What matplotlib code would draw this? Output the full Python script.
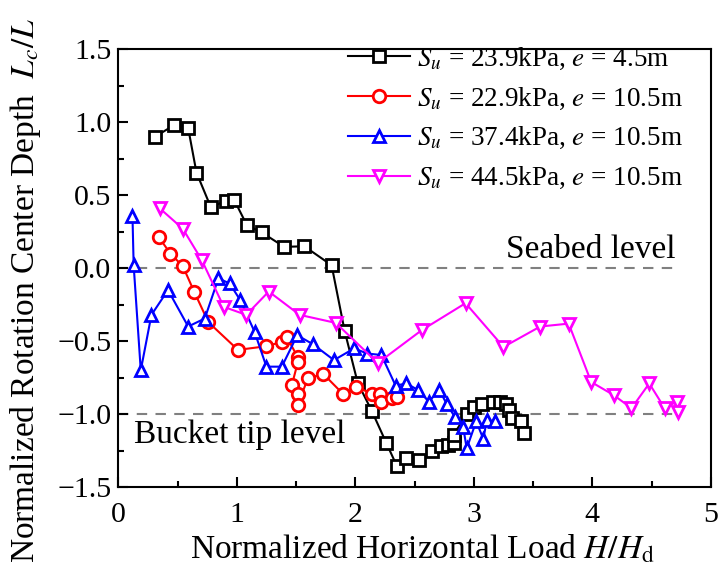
import matplotlib
matplotlib.use("Agg")
import matplotlib.pyplot as plt
from matplotlib.ticker import MultipleLocator

plt.rcParams["font.family"] = ["Liberation Serif", "DejaVu Serif"]
plt.rcParams["mathtext.fontset"] = "stix"

# black squares: Su = 23.9 kPa, e = 4.5 m
h_black = [0.31, 0.47, 0.59, 0.66, 0.78, 0.91, 0.98, 1.085, 1.21, 1.40, 1.57, 1.80,
           1.91, 2.02, 2.14, 2.26, 2.35, 2.43, 2.54, 2.645, 2.72, 2.78, 2.83, 2.83,
           2.94, 3.00, 3.07, 3.16, 3.22, 3.27, 3.30, 3.32, 3.40, 3.42]
l_black = [0.90, 0.98, 0.96, 0.655, 0.42, 0.46, 0.465, 0.295, 0.245, 0.146, 0.15, 0.02,
           -0.43, -0.785, -0.98, -1.195, -1.355, -1.30, -1.315, -1.25, -1.22, -1.21, -1.20, -1.14,
           -1.00, -0.95, -0.93, -0.915, -0.92, -0.93, -0.97, -1.03, -1.05, -1.13]

# red circles: Su = 22.9 kPa, e = 10.5 m
h_red = [0.34, 0.44, 0.545, 0.64, 0.76, 1.01, 1.25, 1.38, 1.42, 1.515, 1.515, 1.465,
         1.52, 1.515, 1.60, 1.73, 1.90, 2.01, 2.14, 2.21, 2.22, 2.31, 2.35]
l_red = [0.215, 0.10, 0.013, -0.16, -0.37, -0.56, -0.535, -0.505, -0.47, -0.61, -0.645, -0.80,
         -0.86, -0.935, -0.755, -0.725, -0.865, -0.815, -0.86, -0.86, -0.915, -0.89, -0.88]

# blue triangles: Su = 37.4 kPa, e = 10.5 m
h_blue = [0.12, 0.13, 0.19, 0.28, 0.42, 0.59, 0.73, 0.845, 0.94, 1.03, 1.15, 1.25,
          1.38, 1.51, 1.64, 1.82, 1.99, 2.10, 2.22, 2.34, 2.43, 2.53, 2.62, 2.71,
          2.77, 2.84, 2.91, 2.94, 3.02, 3.08, 3.11, 3.18]
l_blue = [0.36, 0.02, -0.70, -0.32, -0.15, -0.40, -0.345, -0.07, -0.105, -0.22, -0.436, -0.675,
          -0.675, -0.46, -0.52, -0.63, -0.55, -0.585, -0.595, -0.805, -0.79, -0.835, -0.915, -0.835,
          -0.93, -1.02, -1.09, -1.235, -1.05, -1.17, -1.04, -1.05]

# magenta inverted triangles: Su = 44.5 kPa, e = 10.5 m
h_mag = [0.35, 0.545, 0.705, 0.89, 1.08, 1.27, 1.53, 1.835, 2.19, 2.56, 2.93, 3.25,
         3.56, 3.80, 3.99, 4.18, 4.33, 4.48, 4.61, 4.71, 4.72]
l_mag = [0.41, 0.27, 0.055, -0.265, -0.32, -0.16, -0.32, -0.375, -0.65, -0.425, -0.24, -0.54,
         -0.40, -0.38, -0.78, -0.87, -0.96, -0.79, -0.96, -0.915, -0.985]

labels = [r"$S_u$ = 23.9kPa, $e$ = 4.5m",
          r"$S_u$ = 22.9kPa, $e$ = 10.5m",
          r"$S_u$ = 37.4kPa, $e$ = 10.5m",
          r"$S_u$ = 44.5kPa, $e$ = 10.5m"]

fig = plt.figure(figsize=(7.21, 5.73), dpi=100)
ax = fig.add_axes([0.164, 0.150, 0.822, 0.764])

ref_x = [0, 4.7]
ax.plot(ref_x, [0, 0], ls=(0, (5, 4)), color="#808080", lw=1.5, zorder=1)
ax.plot(ref_x, [-1, -1], ls=(0, (5, 4)), color="#808080", lw=1.5, zorder=1)

mk = dict(markersize=9, markeredgewidth=2, markerfacecolor="white", lw=1.5)
ax.plot(h_black, l_black, color="black", marker="s", label=labels[0], **mk)
ax.plot(h_red, l_red, color="red", marker="o", label=labels[1], **mk)
ax.plot(h_blue, l_blue, color="blue", marker="^", label=labels[2], **mk)
ax.plot(h_mag, l_mag, color="magenta", marker="v", label=labels[3], **mk)

ax.text(4.70, 0.02, "Seabed level", fontsize=24, ha="right", va="bottom")
ax.text(0.13, -1.14, "Bucket tip level", fontsize=24, ha="left", va="center")

ax.set_xlim(0, 5)
ax.set_ylim(-1.5, 1.5)
ax.xaxis.set_major_locator(MultipleLocator(1))
ax.xaxis.set_minor_locator(MultipleLocator(0.5))
ax.yaxis.set_major_locator(MultipleLocator(0.5))
ax.yaxis.set_minor_locator(MultipleLocator(0.25))
ax.set_yticks([1.5, 1.0, 0.5, 0.0, -0.5, -1.0, -1.5])
ax.set_yticklabels(["1.5", "1.0", "0.5", "0.0", "\u22120.5", "\u22121.0", "\u22121.5"])
ax.tick_params(which="both", direction="in", labelsize=21.5, width=1.5)
ax.tick_params(axis="x", which="both", pad=11)
ax.tick_params(axis="y", which="both", pad=5)
ax.tick_params(which="major", length=7)
ax.tick_params(which="minor", length=4)
for s in ax.spines.values():
    s.set_linewidth(1.5)

ax.set_xlabel(r"Normalized Horizontal Load $H/H_\mathrm{d}$", fontsize=24)
ax.xaxis.set_label_coords(0.514, -0.106)
ax.set_ylabel(r"Normalized Rotation Center Depth  $L_c/L$", fontsize=24, va="center")
ax.yaxis.set_label_coords(-0.157, 0.45)

ax.legend(loc="upper right", frameon=False, fontsize=19.5, handlelength=2.3,
          handletextpad=0.25, labelspacing=0.5, borderaxespad=0.2,
          bbox_to_anchor=(0.98, 1.045))

fig.savefig("out.png", dpi=100)
